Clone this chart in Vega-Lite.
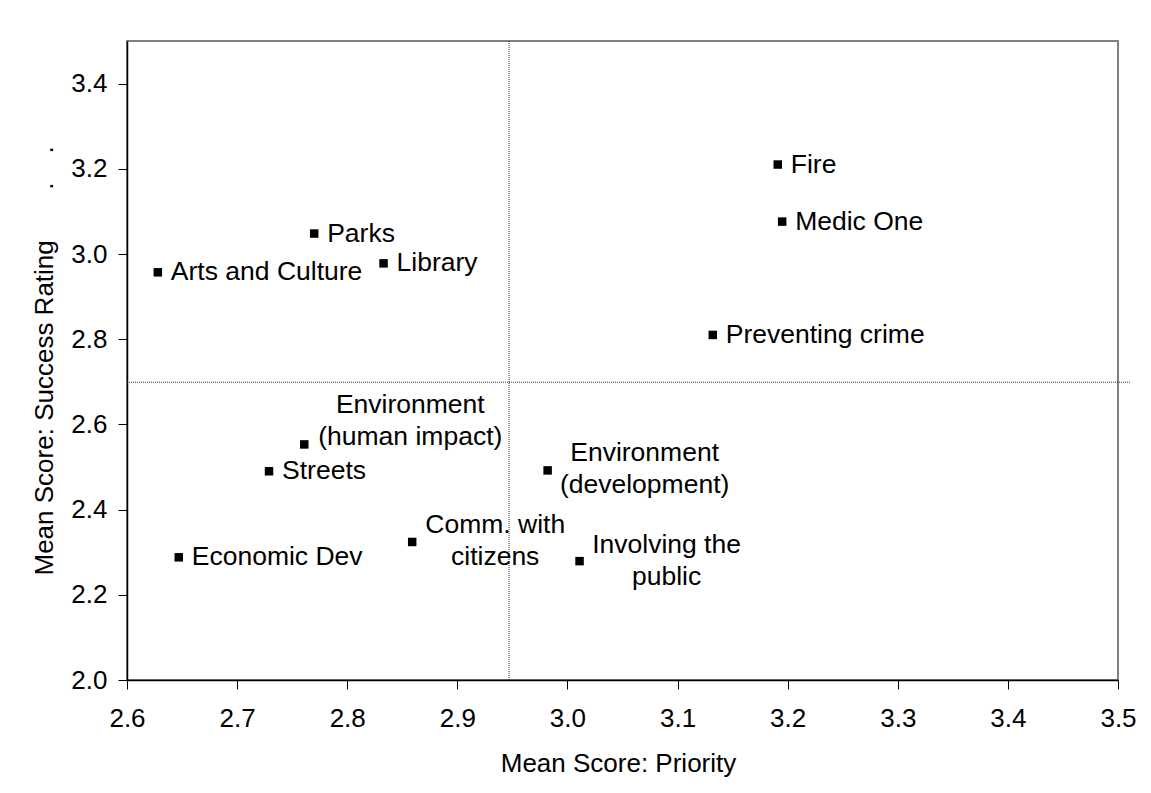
{
  "$schema": "https://vega.github.io/schema/vega-lite/v6.json",
  "width": 991,
  "height": 639,
  "autosize": {"type": "none"},
  "padding": {"left": 127, "top": 41, "right": 33, "bottom": 113},
  "background": "white",
  "config": {
    "view": {"stroke": "#808080", "strokeWidth": 2},
    "font": "Liberation Sans"
  },
  "data": {
    "values": [
      {"name": "Fire", "priority": 3.191, "success": 3.21},
      {"name": "Medic One", "priority": 3.195, "success": 3.076},
      {"name": "Preventing crime", "priority": 3.132, "success": 2.81},
      {"name": "Parks", "priority": 2.77, "success": 3.048},
      {"name": "Arts and Culture", "priority": 2.628, "success": 2.957},
      {"name": "Library", "priority": 2.833, "success": 2.978},
      {"name": "Environment\n(human impact)", "priority": 2.761, "success": 2.553},
      {"name": "Streets", "priority": 2.729, "success": 2.49},
      {"name": "Economic Dev", "priority": 2.647, "success": 2.288},
      {"name": "Comm. with\ncitizens", "priority": 2.859, "success": 2.324},
      {"name": "Environment\n(development)", "priority": 2.982, "success": 2.492},
      {"name": "Involving the\npublic", "priority": 3.011, "success": 2.279}
    ]
  },
  "encoding": {
    "x": {
      "field": "priority",
      "type": "quantitative",
      "scale": {"domain": [2.6, 3.5], "nice": false, "zero": false},
      "axis": {
        "title": "Mean Score: Priority",
        "values": [2.6, 2.7, 2.8, 2.9, 3.0, 3.1, 3.2, 3.3, 3.4, 3.5],
        "format": ".1f",
        "grid": false,
        "domainColor": "#000000",
        "domainWidth": 1.5,
        "tickColor": "#000000",
        "tickSize": 9,
        "labelFontSize": 26,
        "labelPadding": 16,
        "labelColor": "#000000",
        "labelFont": "Liberation Sans",
        "labelFlush": false,
        "labelOverlap": false,
        "titleFont": "Liberation Sans",
        "titleFontSize": 26,
        "titleFontWeight": "normal",
        "titleColor": "#000000",
        "titleX": 491,
        "titleY": 91,
        "titleAlign": "center",
        "titleBaseline": "alphabetic"
      }
    },
    "y": {
      "field": "success",
      "type": "quantitative",
      "scale": {"domain": [2.0, 3.5], "nice": false, "zero": false},
      "axis": {
        "title": "Mean Score: Success Rating\u00a0\u00a0\u00a0\u00a0\u00a0\u00a0\u00a0.\u00a0\u00a0\u00a0\u00a0.",
        "values": [2.0, 2.2, 2.4, 2.6, 2.8, 3.0, 3.2, 3.4],
        "format": ".1f",
        "grid": false,
        "domainColor": "#000000",
        "domainWidth": 1.5,
        "tickColor": "#000000",
        "tickSize": 9,
        "labelFontSize": 26,
        "labelPadding": 11,
        "labelColor": "#000000",
        "labelFont": "Liberation Sans",
        "labelFlush": false,
        "labelOverlap": false,
        "titleFont": "Liberation Sans",
        "titleFontSize": 26,
        "titleFontWeight": "normal",
        "titleColor": "#000000",
        "titleAngle": -90,
        "titleX": -75,
        "titleY": 534,
        "titleAlign": "left",
        "titleBaseline": "alphabetic"
      }
    }
  },
  "layer": [
    {
      "data": {"values": [{"priority": 2.947, "success": 2.0, "success_end": 3.5}]},
      "mark": {"type": "rule", "color": "#333333", "strokeWidth": 1, "strokeDash": [1, 1]},
      "encoding": {"y2": {"field": "success_end"}}
    },
    {
      "data": {"values": [{"priority": 2.6, "priority_end": 3.511, "success": 2.699}]},
      "mark": {"type": "rule", "color": "#333333", "strokeWidth": 1, "strokeDash": [1, 1]},
      "encoding": {"x2": {"field": "priority_end"}}
    },
    {
      "mark": {"type": "square", "size": 72, "color": "#000000", "filled": true, "opacity": 1}
    },
    {
      "transform": [{"filter": {"field": "name", "oneOf": ["Fire", "Medic One", "Preventing crime", "Parks", "Arts and Culture", "Library", "Streets", "Economic Dev"]}}],
      "mark": {"type": "text", "align": "left", "baseline": "middle", "dx": 13, "fontSize": 26.5, "font": "Liberation Sans", "color": "#000000"},
      "encoding": {"text": {"field": "name", "type": "nominal"}}
    },
    {
      "transform": [{"filter": {"field": "name", "equal": "Environment\n(human impact)"}}],
      "mark": {"type": "text", "align": "center", "baseline": "middle", "lineBreak": "\n", "lineHeight": 32, "dx": 106, "dy": -39, "fontSize": 26.5, "font": "Liberation Sans", "color": "#000000"},
      "encoding": {"text": {"field": "name", "type": "nominal"}}
    },
    {
      "transform": [{"filter": {"field": "name", "equal": "Environment\n(development)"}}],
      "mark": {"type": "text", "align": "center", "baseline": "middle", "lineBreak": "\n", "lineHeight": 32, "dx": 97, "dy": -17, "fontSize": 26.5, "font": "Liberation Sans", "color": "#000000"},
      "encoding": {"text": {"field": "name", "type": "nominal"}}
    },
    {
      "transform": [{"filter": {"field": "name", "equal": "Involving the\npublic"}}],
      "mark": {"type": "text", "align": "center", "baseline": "middle", "lineBreak": "\n", "lineHeight": 32, "dx": 87, "dy": -16, "fontSize": 26.5, "font": "Liberation Sans", "color": "#000000"},
      "encoding": {"text": {"field": "name", "type": "nominal"}}
    },
    {
      "transform": [{"filter": {"field": "name", "equal": "Comm. with\ncitizens"}}],
      "mark": {"type": "text", "align": "center", "baseline": "middle", "lineBreak": "\n", "lineHeight": 32, "dx": 83, "dy": -17, "fontSize": 26.5, "font": "Liberation Sans", "color": "#000000"},
      "encoding": {"text": {"field": "name", "type": "nominal"}}
    }
  ]
}
